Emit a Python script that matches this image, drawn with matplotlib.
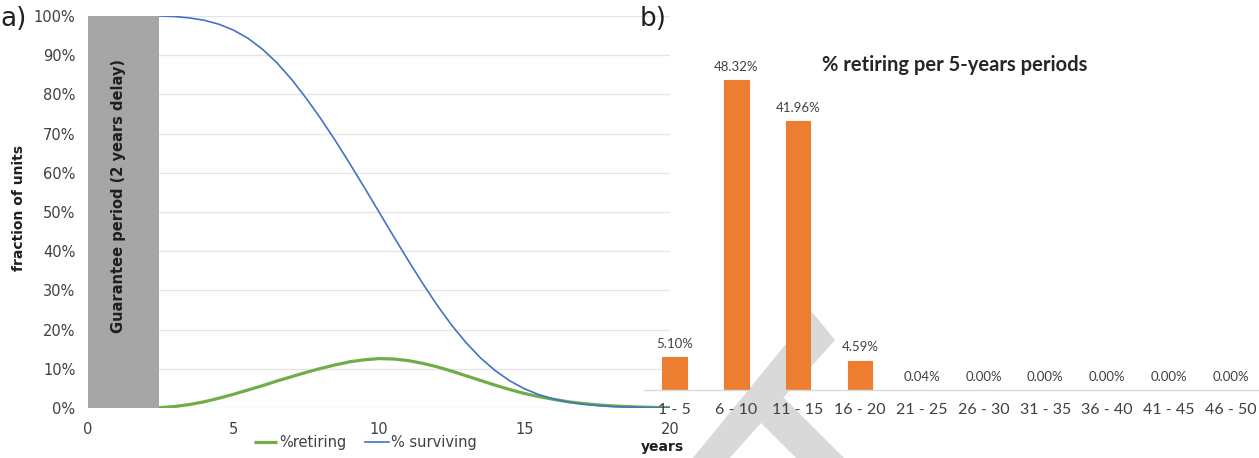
import matplotlib
matplotlib.use("Agg")
import matplotlib.pyplot as plt
from matplotlib.patches import Polygon

# ---------------- data ----------------
years = [1, 1.5, 2, 2.5, 3, 3.5, 4, 4.5, 5, 5.5, 6, 6.5, 7, 7.5, 8, 8.5, 9, 9.5,
         10, 10.5, 11, 11.5, 12, 12.5, 13, 13.5, 14, 14.5, 15, 15.5, 16, 16.5,
         17, 17.5, 18, 18.5, 19, 19.5, 20]
pct_retiring = [0, 0, 0, 0.1, 0.4, 0.9, 1.6, 2.5, 3.5, 4.6, 5.7, 6.9, 8.0, 9.1,
                10.1, 11.0, 11.8, 12.3, 12.6, 12.5, 12.1, 11.4, 10.5, 9.4, 8.2,
                7.0, 5.8, 4.7, 3.7, 2.9, 2.2, 1.6, 1.15, 0.8, 0.55, 0.37, 0.24,
                0.15, 0.1]
pct_surviving = [100, 100, 100, 100, 99.85, 99.5, 98.9, 97.9, 96.4, 94.3, 91.5,
                 88.0, 83.8, 79.0, 73.8, 68.2, 62.3, 56.2, 50.0, 43.8, 37.7,
                 31.8, 26.2, 21.1, 16.6, 12.7, 9.5, 6.9, 4.9, 3.4, 2.3, 1.5,
                 1.0, 0.65, 0.4, 0.25, 0.15, 0.08, 0.03]
guarantee_end = 2.45
x_ticks = [0, 5, 10, 15, 20]
y_ticks = [0, 10, 20, 30, 40, 50, 60, 70, 80, 90, 100]

periods = ["1 - 5", "6 - 10", "11 - 15", "16 - 20", "21 - 25", "26 - 30",
           "31 - 35", "36 - 40", "41 - 45", "46 - 50"]
period_pct = [5.10, 48.32, 41.96, 4.59, 0.04, 0.004, 0.0, 0.0, 0.0, 0.0]

# ---------------- figure ----------------
W, H = 1259, 458
fig = plt.figure(figsize=(W / 100, H / 100), dpi=100)
fig.patch.set_facecolor("white")

def fx(px):
    return px / W

def fy(py):
    return 1 - py / H

TXT = "#404040"
GREEN = "#70ad47"
BLUE = "#4472c4"
ORANGE = "#ed7d31"

# ---------- panel a ----------
ax = fig.add_axes([fx(88), fy(408), (670 - 88) / W, (408 - 16) / H])
ax.set_facecolor("none")
ax.set_xlim(0, 20)
ax.set_ylim(0, 100)
for s in ax.spines.values():
    s.set_visible(False)
ax.set_yticks(y_ticks)
ax.set_yticklabels([f"{v}%" for v in y_ticks])
ax.set_xticks(x_ticks)
ax.set_xticklabels([str(v) for v in x_ticks])
ax.tick_params(axis="both", length=0, labelsize=10.5, labelcolor=TXT)
ax.tick_params(axis="y", pad=9)
ax.tick_params(axis="x", pad=10)
ax.yaxis.grid(True, color="#e6e6e6", lw=1)
ax.set_axisbelow(True)

ax.axvspan(0, guarantee_end, color="#a6a6a6", zorder=3, lw=0)
ax.text(1.05, 54, "Guarantee period (2 years delay)", rotation=90,
        ha="center", va="center", fontsize=10.5, fontweight="bold",
        color="#1f1f1f", zorder=4)

ax.plot(years, pct_retiring, color=GREEN, lw=2.3, label="%retiring", zorder=2,
        solid_capstyle="butt")
ax.plot(years, pct_surviving, color=BLUE, lw=1.2, label="% surviving", zorder=2)

ax.legend(loc="center", bbox_to_anchor=((365 - 88) / 582, (408 - 443) / 392),
          ncol=2, frameon=False, handlelength=1.6, handletextpad=0.15,
          columnspacing=1.3, fontsize=10.5, labelcolor=TXT)

fig.text(fx(19), fy(208), "fraction of units", rotation=90, ha="center",
         va="center", fontsize=10, fontweight="bold", color="#1f1f1f")
fig.text(fx(662), fy(447), "years", ha="center", va="center", fontsize=10,
         fontweight="bold", color="#1f1f1f")

# ---------- watermark X ----------
stroke1 = [(812, 312), (835, 340), (719, 470), (683, 470)]
stroke2 = [(770, 384), (856, 470), (808, 470), (745, 407)]
for poly in (stroke1, stroke2):
    fig.add_artist(Polygon([(fx(x), fy(y)) for x, y in poly], closed=True,
                           transform=fig.transFigure, facecolor="#d9d9d9",
                           edgecolor="none", zorder=-1))

# ---------- panel b ----------
bx = fig.add_axes([fx(643.6), fy(390), (W - 643.6) / W, (390 - 6) / H])
bx.set_facecolor("none")
xs = list(range(len(periods)))
bx.set_xlim(-0.5, (W - 674.5) / 61.8)
bx.set_ylim(0, 384 / 6.415)
lws = [0.8 if v > 0 else 0 for v in period_pct]
bx.bar(xs, period_pct, width=0.4, color=ORANGE, edgecolor=ORANGE, linewidth=lws,
       zorder=2)
for s in ("top", "left", "right"):
    bx.spines[s].set_visible(False)
bx.spines["bottom"].set_color("#d9d9d9")
bx.spines["bottom"].set_linewidth(1)
bx.set_yticks([])
bx.set_xticks(xs)
bx.set_xticklabels(periods, fontfamily="Lato", fontsize=11.5, color=TXT)
bx.tick_params(axis="x", length=0, pad=9.5)
for i, v in enumerate(period_pct):
    bx.annotate(f"{v:.2f}%", (i, v), xytext=(0, 9.5), textcoords="offset points",
                ha="center", va="center", fontsize=9.5, fontfamily="Lato",
                color=TXT)

fig.text(fx(955), fy(65), "% retiring per 5-years periods", ha="center",
         va="center", fontsize=14.5, fontweight="bold", fontfamily="Lato",
         color="#262626")

fig.text(fx(0), fy(19), "a)", ha="left", va="center", fontsize=19, color="#1f1f1f")
fig.text(fx(640), fy(19), "b)", ha="left", va="center", fontsize=19, color="#1f1f1f")

fig.savefig("out.png", dpi=100)
